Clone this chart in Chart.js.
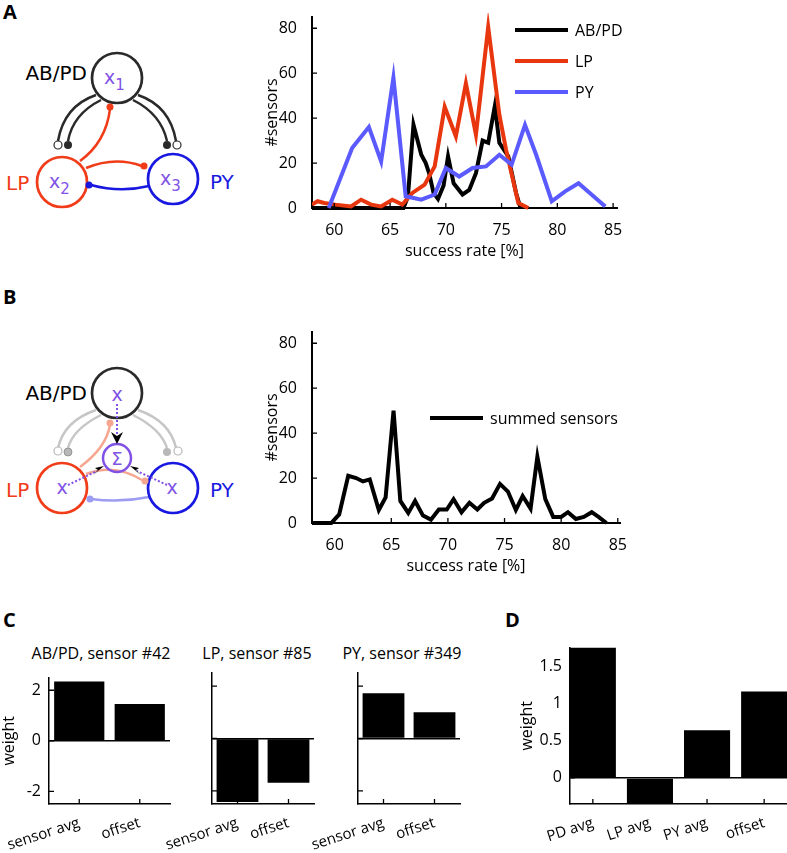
<!DOCTYPE html>
<html>
<head>
<meta charset="utf-8">
<script src="https://cdn.jsdelivr.net/npm/chart.js@4.4.0/dist/chart.umd.min.js"></script>
<style>
body { margin: 0; background: #fff; width: 787px; height: 853px; position: relative; overflow: hidden; font-family: 'Open Sans', sans-serif; }
canvas { position: absolute; }
.panel { position: absolute; font-weight: bold; font-size: 20px; line-height: 20px; }
.ttl { position: absolute; font-size: 16px; line-height: 18px; white-space: nowrap; transform: translateX(-50%); }
svg { position: absolute; left: 0; }
</style>
</head>
<body>

<div class="panel" style="left:3px;top:2px">A</div>
<div class="panel" style="left:3px;top:287px">B</div>
<div class="panel" style="left:3px;top:610px">C</div>
<div class="panel" style="left:505px;top:610px">D</div>

<!-- circuit sketch, panel A -->
<svg width="250" height="240" style="top:0" font-family="'DejaVu Sans', sans-serif">
  <g fill="none" stroke-width="2.5">
    <path d="M96 95 Q64 106 58 141" stroke="#2a2a2a"/>
    <path d="M101 100 Q73 114 68 141" stroke="#2a2a2a"/>
    <path d="M138 95 Q170 106 176 141" stroke="#2a2a2a"/>
    <path d="M133 100 Q161 114 167 141" stroke="#2a2a2a"/>
    <path d="M80 161 Q106 142 110 109" stroke="#f03c18"/>
    <path d="M86 168 Q115 156 142 166" stroke="#f03c18"/>
    <path d="M149 186 Q120 193 91 185" stroke="#1818e0"/>
    <circle cx="117" cy="78" r="25" stroke="#2a2a2a" stroke-width="2.7"/>
    <circle cx="62" cy="182" r="25" stroke="#f03c18" stroke-width="2.7"/>
    <circle cx="173" cy="179" r="25" stroke="#1818e0" stroke-width="2.7"/>
  </g>
  <circle cx="58" cy="145" r="4" fill="#fff" stroke="#2a2a2a" stroke-width="1.2"/>
  <circle cx="68" cy="145" r="4" fill="#2a2a2a"/>
  <circle cx="167" cy="145" r="4" fill="#2a2a2a"/>
  <circle cx="177" cy="145" r="4" fill="#fff" stroke="#2a2a2a" stroke-width="1.2"/>
  <circle cx="110" cy="107" r="3.5" fill="#f03c18"/>
  <circle cx="144" cy="166" r="3.5" fill="#f03c18"/>
  <circle cx="89" cy="185" r="3.5" fill="#1818e0"/>
  <g fill="#8052e6" font-size="19">
    <text x="104" y="84">x<tspan font-size="15" dy="6">1</tspan></text>
    <text x="49" y="188">x<tspan font-size="15" dy="6">2</tspan></text>
    <text x="160" y="185">x<tspan font-size="15" dy="6">3</tspan></text>
  </g>
  <text x="87" y="80" text-anchor="end" font-size="20" fill="#000">AB/PD</text>
  <text x="6" y="190" font-size="20" fill="#f03c18">LP</text>
  <text x="210" y="189" font-size="20" fill="#1818e0">PY</text>
</svg>

<!-- circuit sketch, panel B -->
<svg width="250" height="240" style="top:300px" font-family="'DejaVu Sans', sans-serif">
  <g transform="translate(0,-300)">
    <g fill="none" stroke-width="2.5">
      <path d="M96 410 Q64 421 58 448" stroke="#c6c6c6"/>
      <path d="M101 415 Q73 429 68 448" stroke="#c6c6c6"/>
      <path d="M138 410 Q170 421 176 448" stroke="#c6c6c6"/>
      <path d="M133 415 Q161 429 167 448" stroke="#c6c6c6"/>
      <path d="M80 467 Q106 448 110 425" stroke="#f6a690"/>
      <path d="M86 474 Q115 463 142 480" stroke="#f6a690"/>
      <path d="M149 497 Q120 503 91 499" stroke="#9c9cf2"/>
      <circle cx="117" cy="393" r="25" stroke="#2a2a2a" stroke-width="2.7"/>
      <circle cx="62" cy="488" r="25" stroke="#f03c18" stroke-width="2.7"/>
      <circle cx="173" cy="488" r="25" stroke="#1818e0" stroke-width="2.7"/>
      <circle cx="117" cy="458" r="14" stroke="#8052e6" stroke-width="2.5"/>
    </g>
    <circle cx="58" cy="451" r="4" fill="#fff" stroke="#b8b8b8" stroke-width="1.2"/>
    <circle cx="68" cy="452" r="4" fill="#b8b8b8" stroke="#888" stroke-width="0.8"/>
    <circle cx="167" cy="452" r="4" fill="#b8b8b8"/>
    <circle cx="178" cy="451" r="4" fill="#fff" stroke="#b8b8b8" stroke-width="1.2"/>
    <circle cx="110" cy="423" r="3.5" fill="#f6a690"/>
    <circle cx="145" cy="481" r="3.5" fill="#f6a690"/>
    <circle cx="90" cy="499" r="3.5" fill="#9c9cf2"/>
    <g stroke="#8052e6" stroke-width="2" stroke-dasharray="2 2" fill="none">
      <path d="M117 404 L117 434"/>
      <path d="M68 485 L97 471"/>
      <path d="M167 485 L137 471"/>
    </g>
    <polygon points="111,432 117,436 123,432 117,444" fill="#000"/>
    <polygon points="104,466 95,468 98,470 93,475" fill="#000"/>
    <polygon points="130,466 139,468 136,470 141,475" fill="#000"/>
    <g fill="#8052e6" font-size="19" text-anchor="middle">
      <text x="117" y="401">x</text>
      <text x="62" y="494">x</text>
      <text x="172" y="494">x</text>
      <text x="117" y="465" font-size="18">Σ</text>
    </g>
    <text x="87" y="400" text-anchor="end" font-size="20" fill="#000">AB/PD</text>
    <text x="6" y="497" font-size="20" fill="#f03c18">LP</text>
    <text x="210" y="497" font-size="20" fill="#1818e0">PY</text>
  </g>
</svg>

<canvas id="histA" width="380" height="262" style="left:252px;top:0px;width:380px;height:262px"></canvas>
<canvas id="histB" width="380" height="262" style="left:252px;top:315px;width:380px;height:262px"></canvas>

<div class="ttl" style="left:101px;top:644px">AB/PD, sensor #42</div>
<div class="ttl" style="left:257px;top:644px">LP, sensor #85</div>
<div class="ttl" style="left:402px;top:644px">PY, sensor #349</div>
<canvas id="barC1" width="175" height="193" style="left:0px;top:660px;width:175px;height:193px"></canvas>
<canvas id="barC2" width="167" height="193" style="left:152px;top:660px;width:167px;height:193px"></canvas>
<canvas id="barC3" width="167" height="193" style="left:298px;top:660px;width:167px;height:193px"></canvas>
<canvas id="barD" width="287" height="223" style="left:500px;top:630px;width:287px;height:223px"></canvas>

<script>
// panel A: success-rate histograms per cell type
var pdRate  = [58.0, 66.2, 66.6, 67.1, 67.8, 68.2, 68.5, 68.9, 69.3, 69.8, 70.2, 70.7, 71.5, 72.1, 72.7, 73.3, 73.8, 74.4, 74.8, 75.6, 76.3, 76.7];
var pdCount = [0, 0, 5, 37, 23.7, 20, 15.5, 6.7, 4, 10, 23, 11, 6, 8, 15.5, 30, 29, 45.5, 29, 23, 6.7, 0];
var lpRate  = [58.0, 58.5, 59.1, 60.1, 61.5, 62.4, 63.3, 64.2, 65.2, 66.1, 67.0, 68.1, 69.0, 69.9, 70.9, 71.8, 72.7, 73.8, 74.8, 75.4, 76.5, 77.4];
var lpCount = [1.5, 3, 2.2, 1.5, 0.7, 3.7, 1.5, 0.7, 3.7, 1.5, 6.7, 10.4, 18.5, 45, 31.9, 55.5, 32.6, 80.5, 41.5, 26, 2.2, 0];
var pyRate  = [59.5, 61.6, 63.1, 64.2, 65.3, 66.4, 67.8, 69.0, 70.0, 71.2, 72.4, 73.6, 74.8, 75.9, 77.1, 78.1, 79.5, 80.7, 81.9, 84.3];
var pyCount = [0, 26.7, 36, 20.7, 58, 5.2, 3.7, 6, 17.8, 14, 17.8, 18.5, 23.7, 19.3, 37, 23.7, 3, 7.4, 11, 0.7];

// panel B: summed sensors
var sumRate  = [58.0, 59.7, 60.4, 61.2, 61.9, 62.5, 63.1, 63.9, 64.5, 65.2, 65.8, 66.5, 67.1, 67.8, 68.5, 69.2, 69.9, 70.5, 71.2, 71.9, 72.6, 73.2, 73.9, 74.6, 75.3, 76.0, 76.6, 77.3, 77.9, 78.6, 79.3, 80.0, 80.6, 81.3, 82.0, 82.7, 83.3, 84.0];
var sumCount = [0, 0, 3.8, 21, 20, 18.5, 19.4, 5.8, 11.4, 50, 9.8, 4.5, 9.8, 3.3, 1.5, 6, 6, 10.6, 4.8, 9, 6, 9, 10.9, 17.4, 14, 5.8, 12, 6.4, 29.5, 10.6, 2.7, 2.7, 4.8, 1.8, 2.7, 4.8, 2.7, 0];

var rateTicks  = [60, 65, 70, 75, 80, 85];
var countTicks = [0, 20, 40, 60, 80];

// panel C: single-sensor weights
var sensorCats = ['sensor avg', 'offset'];
var pdWeights  = [2.35, 1.46];
var lpWeights  = [-2.42, -1.69];
var pyWeights  = [1.73, 1.0];
var weightTicksC = [-2, 0, 2];

// panel D: summed-sensor weights
var avgCats    = ['PD avg', 'LP avg', 'PY avg', 'offset'];
var avgWeights = [1.75, -0.35, 0.64, 1.16];
var weightTicksD = [0, 0.5, 1, 1.5];

Chart.defaults.font.family = "'Open Sans', sans-serif";
Chart.defaults.font.size = 16;
Chart.defaults.color = '#000';
Chart.defaults.animation = false;

function pts(xs, ys) {
  return xs.map(function (x, i) { return { x: x, y: ys[i] }; });
}

// matlab style tick marks pointing into the axes
var inTicks = {
  id: 'inTicks',
  afterDatasetsDraw: function (chart) {
    var ctx = chart.ctx, a = chart.chartArea, sx = chart.scales.x, sy = chart.scales.y;
    ctx.save();
    ctx.strokeStyle = '#000';
    ctx.lineWidth = 1.3;
    ctx.beginPath();
    sx.ticks.forEach(function (t) {
      var p = sx.getPixelForValue(t.value);
      ctx.moveTo(p, a.bottom); ctx.lineTo(p, a.bottom - 5);
    });
    sy.ticks.forEach(function (t) {
      var p = sy.getPixelForValue(t.value);
      ctx.moveTo(a.left, p); ctx.lineTo(a.left + 5, p);
    });
    ctx.stroke();
    ctx.restore();
  }
};

// legend drawn inside the axes, as in the figure
var boxLegend = {
  id: 'boxLegend',
  afterDraw: function (chart, args, o) {
    if (o.x === undefined) return;
    var ctx = chart.ctx;
    ctx.save();
    ctx.font = "16px 'Open Sans', sans-serif";
    ctx.textBaseline = 'middle';
    chart.data.datasets.forEach(function (ds, i) {
      var y = o.y + i * o.gap;
      ctx.strokeStyle = ds.borderColor;
      ctx.lineWidth = ds.borderWidth;
      ctx.beginPath(); ctx.moveTo(o.x, y); ctx.lineTo(o.x + o.len, y); ctx.stroke();
      ctx.fillStyle = '#000';
      ctx.fillText(ds.label, o.x + o.len + 7, y + 1);
    });
    ctx.restore();
  }
};

function histChart(id, datasets, legend, right, xmax) {
  return new Chart(document.getElementById(id), {
    type: 'line',
    data: { datasets: datasets },
    options: {
      responsive: false,
      layout: { padding: { top: 17, right: right, left: 0, bottom: 0 } },
      elements: { point: { radius: 0 }, line: { tension: 0 } },
      plugins: { legend: { display: false }, tooltip: { enabled: false }, boxLegend: legend },
      scales: {
        x: {
          type: 'linear', min: 58, max: xmax,
          afterBuildTicks: function (s) { s.ticks = rateTicks.map(function (v) { return { value: v }; }); },
          afterFit: function (s) { s.height = 54; },
          grid: { display: false },
          border: { color: '#000', width: 2 },
          ticks: { padding: 5 },
          title: { display: true, text: 'success rate [%]', padding: { top: 0, bottom: 1 } }
        },
        y: {
          min: 0, max: 85,
          afterBuildTicks: function (s) { s.ticks = countTicks.map(function (v) { return { value: v }; }); },
          afterFit: function (s) { s.width = 60; },
          grid: { display: false },
          border: { color: '#000', width: 2 },
          ticks: { padding: 7 },
          title: { display: true, text: '#sensors', padding: { top: 11, bottom: 0 } }
        }
      }
    },
    plugins: [inTicks, boxLegend]
  });
}

var lineClip = { left: 0, right: 0, top: 4, bottom: 4 };

histChart('histA', [
  { label: 'AB/PD', data: pts(pdRate, pdCount), borderColor: '#000000', borderWidth: 4, order: 2, clip: lineClip },
  { label: 'LP', data: pts(lpRate, lpCount), borderColor: '#e8360f', borderWidth: 4, order: 1, clip: lineClip },
  { label: 'PY', data: pts(pyRate, pyCount), borderColor: '#5a5aff', borderWidth: 4, order: 0, clip: lineClip }
], { x: 263, y: 30, gap: 31, len: 53 }, 15, 85.35);

histChart('histB', [
  { label: 'summed sensors', data: pts(sumRate, sumCount), borderColor: '#000000', borderWidth: 4, clip: lineClip }
], { x: 178, y: 103, gap: 31, len: 53 }, 10, 85.2);

function weightChart(id, cats, vals, o) {
  var xs = cats.map(function (c, i) { return i + 1; });
  return new Chart(document.getElementById(id), {
    type: 'bar',
    data: { datasets: [{ data: pts(xs, vals), backgroundColor: '#000', barPercentage: o.bar, categoryPercentage: 1, clip: 0 }] },
    options: {
      responsive: false,
      layout: { padding: { top: o.top, right: o.right, left: 0, bottom: 0 } },
      plugins: { legend: { display: false }, tooltip: { enabled: false } },
      scales: {
        x: {
          type: 'linear', min: o.xmin, max: o.xmax, offset: false,
          afterBuildTicks: function (s) { s.ticks = xs.map(function (v) { return { value: v }; }); },
          // keep the axes where the figure has them; rotated labels may hang outside
          afterFit: function (s) { s.height = o.xh; s.paddingLeft = 0; s.paddingRight = 0; },
          grid: { display: false, offset: false },
          border: { color: '#000', width: 1.5 },
          ticks: { autoSkip: false, minRotation: 18, maxRotation: 18, padding: 2, font: { size: 15 }, callback: function (v) { return cats[xs.indexOf(v)]; } }
        },
        y: {
          min: o.ymin, max: o.ymax,
          afterBuildTicks: function (s) { s.ticks = o.ticks.map(function (v) { return { value: v }; }); },
          afterFit: function (s) { s.width = o.yw; },
          grid: { drawTicks: false, lineWidth: 1.5, color: function (c) { return c.tick && c.tick.value === 0 ? '#000' : 'rgba(0,0,0,0)'; } },
          border: { color: '#000', width: 1.5 },
          ticks: { display: o.labels, padding: 8, callback: function (v) { return String(v); } },
          title: { display: o.labels, text: 'weight', padding: { top: o.tpad, bottom: 0 } }
        }
      }
    },
    plugins: [inTicks]
  });
}

weightChart('barC1', sensorCats, pdWeights, { bar: 0.83, top: 13, right: 5, xh: 49, yw: 49, xmin: 0.5, xmax: 2.5, ymin: -2.5, ymax: 2.5, ticks: weightTicksC, labels: true, tpad: 0 });
weightChart('barC2', sensorCats, lpWeights, { bar: 0.82, top: 13, right: 5, xh: 49, yw: 60, xmin: 0.5, xmax: 2.5, ymin: -2.5, ymax: 2.5, ticks: weightTicksC, labels: false, tpad: 0 });
weightChart('barC3', sensorCats, pyWeights, { bar: 0.82, top: 13, right: 5, xh: 49, yw: 60, xmin: 0.5, xmax: 2.5, ymin: -2.5, ymax: 2.5, ticks: weightTicksC, labels: false, tpad: 0 });
weightChart('barD', avgCats, avgWeights, { bar: 0.807, top: 17, right: 0, xh: 49, yw: 70, xmin: 0.6, xmax: 4.4, ymin: -0.35, ymax: 1.75, ticks: weightTicksD, labels: true, tpad: 18 });
</script>
</body>
</html>
